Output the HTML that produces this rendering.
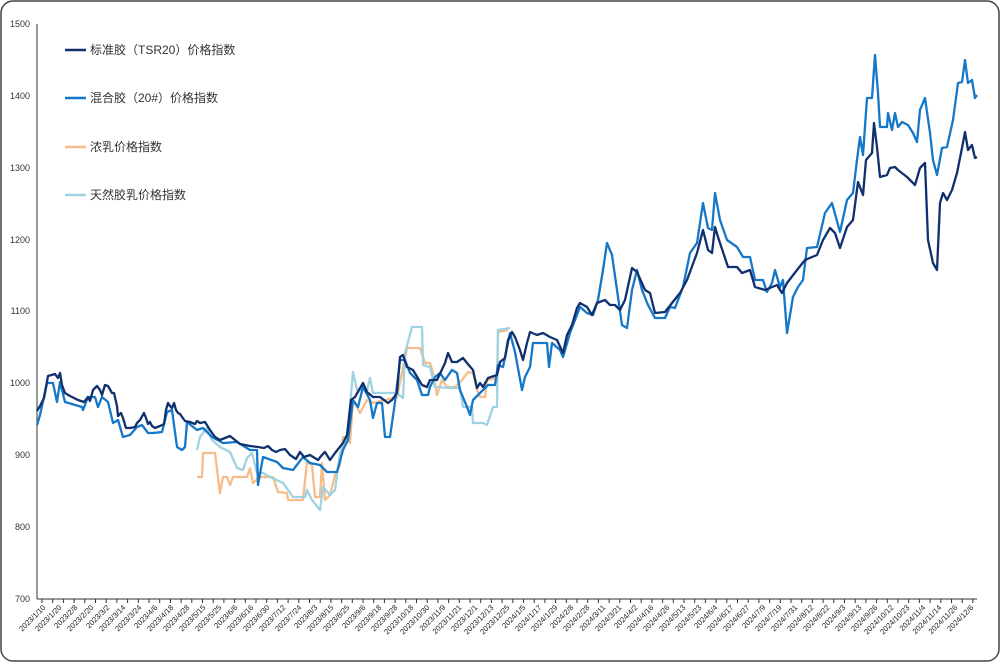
<!DOCTYPE html>
<html><head><meta charset="utf-8"><style>
html,body{margin:0;padding:0;background:#fff;}
svg{display:block;}
text{font-family:"Liberation Sans","Noto Sans CJK SC",sans-serif;}
</style></head><body>
<svg width="1000" height="662" viewBox="0 0 1000 662" xmlns="http://www.w3.org/2000/svg">
<rect x="1" y="1" width="998" height="660" rx="12" ry="12" fill="#fff" stroke="#444" stroke-width="1.5"/>
<g font-size="9" fill="#333" text-anchor="end">
<text x="30" y="27">1500</text><text x="30" y="99">1400</text><text x="30" y="171">1300</text>
<text x="30" y="243">1200</text><text x="30" y="314">1100</text><text x="30" y="386">1000</text>
<text x="30" y="458">900</text><text x="30" y="530">800</text><text x="30" y="602">700</text>
</g>
<line x1="37" y1="24" x2="37" y2="599" stroke="#333" stroke-width="1"/>
<line x1="37" y1="599" x2="977" y2="599" stroke="#333" stroke-width="1"/>
<line x1="41.5" y1="601" x2="977" y2="601" stroke="#333" stroke-width="4" stroke-dasharray="1 9.7"/>
<g font-size="7.6" fill="#222" text-anchor="end">
<text transform="translate(46,608) rotate(-45)">2023/1/10</text>
<text transform="translate(62,608) rotate(-45)">2023/1/20</text>
<text transform="translate(78,608) rotate(-45)">2023/2/8</text>
<text transform="translate(94,608) rotate(-45)">2023/2/20</text>
<text transform="translate(110,608) rotate(-45)">2023/3/2</text>
<text transform="translate(126,608) rotate(-45)">2023/3/14</text>
<text transform="translate(142,608) rotate(-45)">2023/3/24</text>
<text transform="translate(158,608) rotate(-45)">2023/4/6</text>
<text transform="translate(174,608) rotate(-45)">2023/4/18</text>
<text transform="translate(190,608) rotate(-45)">2023/4/28</text>
<text transform="translate(206,608) rotate(-45)">2023/5/15</text>
<text transform="translate(222,608) rotate(-45)">2023/5/25</text>
<text transform="translate(238,608) rotate(-45)">2023/6/6</text>
<text transform="translate(254,608) rotate(-45)">2023/6/16</text>
<text transform="translate(270,608) rotate(-45)">2023/6/30</text>
<text transform="translate(286,608) rotate(-45)">2023/7/12</text>
<text transform="translate(302,608) rotate(-45)">2023/7/24</text>
<text transform="translate(318,608) rotate(-45)">2023/8/3</text>
<text transform="translate(334,608) rotate(-45)">2023/8/15</text>
<text transform="translate(350,608) rotate(-45)">2023/8/25</text>
<text transform="translate(366,608) rotate(-45)">2023/9/6</text>
<text transform="translate(382,608) rotate(-45)">2023/9/18</text>
<text transform="translate(398,608) rotate(-45)">2023/9/28</text>
<text transform="translate(414,608) rotate(-45)">2023/10/18</text>
<text transform="translate(430,608) rotate(-45)">2023/10/30</text>
<text transform="translate(446,608) rotate(-45)">2023/11/9</text>
<text transform="translate(462,608) rotate(-45)">2023/11/21</text>
<text transform="translate(478,608) rotate(-45)">2023/12/1</text>
<text transform="translate(494,608) rotate(-45)">2023/12/13</text>
<text transform="translate(510,608) rotate(-45)">2023/12/25</text>
<text transform="translate(526,608) rotate(-45)">2024/1/5</text>
<text transform="translate(542,608) rotate(-45)">2024/1/17</text>
<text transform="translate(558,608) rotate(-45)">2024/1/29</text>
<text transform="translate(574,608) rotate(-45)">2024/2/8</text>
<text transform="translate(590,608) rotate(-45)">2024/2/28</text>
<text transform="translate(606,608) rotate(-45)">2024/3/11</text>
<text transform="translate(622,608) rotate(-45)">2024/3/21</text>
<text transform="translate(638,608) rotate(-45)">2024/4/2</text>
<text transform="translate(654,608) rotate(-45)">2024/4/16</text>
<text transform="translate(670,608) rotate(-45)">2024/4/26</text>
<text transform="translate(686,608) rotate(-45)">2024/5/13</text>
<text transform="translate(702,608) rotate(-45)">2024/5/23</text>
<text transform="translate(718,608) rotate(-45)">2024/6/4</text>
<text transform="translate(734,608) rotate(-45)">2024/6/17</text>
<text transform="translate(750,608) rotate(-45)">2024/6/27</text>
<text transform="translate(766,608) rotate(-45)">2024/7/9</text>
<text transform="translate(782,608) rotate(-45)">2024/7/19</text>
<text transform="translate(798,608) rotate(-45)">2024/7/31</text>
<text transform="translate(814,608) rotate(-45)">2024/8/12</text>
<text transform="translate(830,608) rotate(-45)">2024/8/22</text>
<text transform="translate(846,608) rotate(-45)">2024/9/3</text>
<text transform="translate(862,608) rotate(-45)">2024/9/13</text>
<text transform="translate(878,608) rotate(-45)">2024/9/26</text>
<text transform="translate(894,608) rotate(-45)">2024/10/12</text>
<text transform="translate(910,608) rotate(-45)">2024/10/23</text>
<text transform="translate(926,608) rotate(-45)">2024/11/4</text>
<text transform="translate(942,608) rotate(-45)">2024/11/14</text>
<text transform="translate(958,608) rotate(-45)">2024/11/26</text>
<text transform="translate(974,608) rotate(-45)">2024/12/6</text>
</g>
<g fill="none" stroke-width="2.3" stroke-linejoin="round">
<polyline stroke="#f6bd8a" points="197,477 202,477 203,453 215,453 220,493 223,477 227,477 230,485 233,477 247,477 250,468 253,483 260,477 273,477 278,492 287,493 288,500 303,500 307,462 312,465 315,497 320,497 322,463 325,500 330,495 335,475 340,465 343,437 345,437 350,443 353,400 360,413 367,400 373,403 397,397 407,348 420,348 425,363 430,363 433,373 437,395 442,380 447,387 455,387 462,380 468,372 473,373 477,390 480,397 485,397 487,380 497,378 498,332 508,330"/>
<polyline stroke="#9fd2e2" points="197,450 200,437 207,428 212,440 220,447 230,452 237,468 243,470 247,458 252,453 257,473 263,473 270,477 283,483 293,497 305,497 307,490 312,500 320,510 323,487 330,495 335,490 340,453 347,440 353,372 357,390 367,390 370,378 373,393 397,393 403,398 405,353 412,327 422,327 423,365 430,367 435,387 450,388 460,388 463,407 472,407 473,423 483,423 487,425 493,407 497,407 498,330 510,328"/>
<polyline stroke="#1577c8" points="37,425 40,415 47,383 53,383 57,402 60,382 65,402 82,407 83,410 88,397 95,397 98,407 102,397 108,402 113,423 118,420 123,437 130,435 137,427 142,425 148,433 153,433 162,432 167,412 172,410 177,447 182,450 185,447 187,422 197,430 203,428 212,437 223,443 237,442 250,450 257,450 258,485 263,457 277,462 283,468 293,470 303,457 310,463 320,465 327,472 337,472 343,450 348,440 353,400 358,407 363,387 370,400 373,418 377,403 382,403 385,437 390,437 395,402 400,360 405,360 410,373 417,380 422,395 428,395 430,387 435,377 440,373 445,380 452,370 457,373 460,390 467,407 470,415 473,400 478,395 483,390 488,385 495,385 498,365 503,367 510,333 515,352 522,390 525,377 530,367 533,343 547,343 549,367 552,343 560,350 563,357 570,333 575,320 580,307 587,313 593,315 598,300 603,270 607,243 612,255 617,290 622,325 627,328 632,290 637,270 642,290 648,305 655,318 665,318 670,307 675,308 683,287 690,253 697,243 703,203 708,228 712,230 715,193 720,220 727,240 737,247 743,257 750,257 755,280 763,280 767,292 772,283 775,270 780,287 783,280 787,333 793,297 798,287 803,280 807,248 817,247 825,213 832,203 840,232 847,200 853,193 857,160 860,137 863,155 867,98 872,98 875,55 878,93 880,127 887,127 888,113 892,130 895,113 898,127 902,122 908,125 913,133 917,142 920,110 925,98 930,133 933,160 937,175 942,148 947,147 953,120 958,83 962,82 965,60 968,83 972,80 975,98 977,95"/>
<polyline stroke="#10306e" points="37,411 40,406 44,398 48,376 55,374 58,378 60,373 62,385 65,393 70,396 78,400 84,402 88,397 90,401 93,390 97,386 100,390 102,395 105,385 108,386 112,393 114,393 117,406 118,416 121,413 123,418 126,428 130,428 135,427 137,423 140,420 144,413 146,418 148,424 150,422 152,426 155,428 160,426 164,424 166,410 168,403 170,406 172,408 174,403 176,410 178,413 180,414 185,421 190,422 195,424 197,421 200,423 205,422 210,430 215,437 220,440 230,436 240,444 250,446 258,447 264,448 268,446 272,450 276,452 280,450 285,449 290,455 296,459 300,452 304,457 310,455 318,460 322,455 325,452 330,460 335,453 343,443 347,435 351,400 355,397 363,383 367,392 373,397 380,397 388,403 392,400 397,393 400,357 403,355 407,367 413,370 422,385 427,387 430,380 437,380 445,363 448,353 452,362 457,362 463,358 467,363 473,370 477,388 480,383 483,387 488,378 497,375 500,362 505,358 508,340 512,332 515,337 520,350 523,360 527,343 530,332 537,335 543,333 550,337 557,340 563,353 567,335 572,325 577,308 580,303 587,307 592,315 597,303 605,300 610,305 615,305 620,310 625,300 632,268 637,272 645,290 650,293 655,313 665,312 672,303 680,293 687,280 697,253 703,230 708,250 712,253 715,227 718,237 728,267 737,267 742,273 750,270 755,287 765,290 777,285 782,293 787,283 797,270 805,260 817,255 823,240 830,228 835,233 840,248 847,227 853,220 858,182 863,195 866,160 872,153 874,123 877,147 880,177 887,175 890,168 895,167 898,170 907,177 915,185 920,168 925,163 928,240 933,263 937,270 940,203 943,193 947,200 952,190 957,173 962,148 965,132 968,150 972,145 975,158 977,157"/>
</g>
<g font-size="12" fill="#333">
<line x1="65" y1="50" x2="86" y2="50" stroke="#10306e" stroke-width="2.5"/><text x="90" y="54">标准胶（TSR20）价格指数</text>
<line x1="65" y1="98" x2="86" y2="98" stroke="#1577c8" stroke-width="2.5"/><text x="90" y="102">混合胶（20#）价格指数</text>
<line x1="65" y1="147" x2="86" y2="147" stroke="#f6bd8a" stroke-width="2.5"/><text x="90" y="151">浓乳价格指数</text>
<line x1="65" y1="195" x2="86" y2="195" stroke="#9fd2e2" stroke-width="2.5"/><text x="90" y="199">天然胶乳价格指数</text>
</g>
</svg>
</body></html>
